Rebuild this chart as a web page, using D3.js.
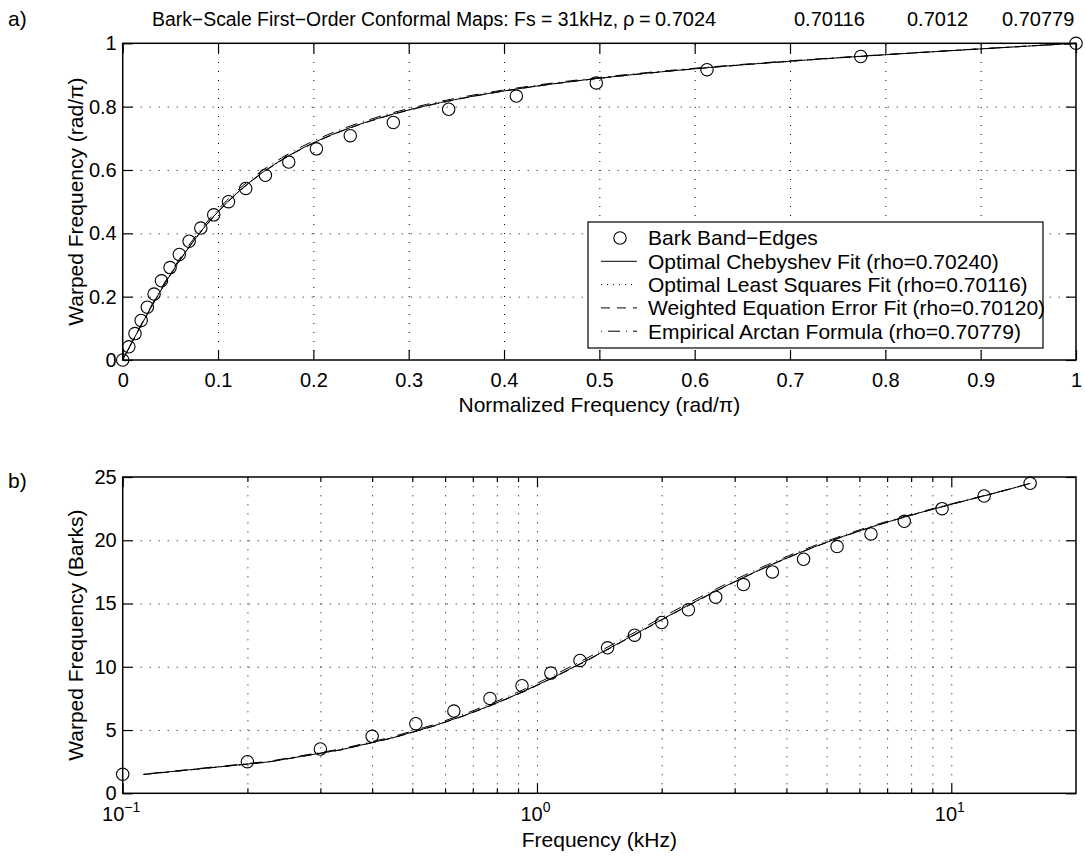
<!DOCTYPE html>
<html>
<head>
<meta charset="utf-8">
<script src="https://cdn.jsdelivr.net/npm/d3@7"></script>
<style>
  html, body { margin: 0; padding: 0; background: #fff; }
  svg { display: block; font-family: "Liberation Sans", Arial, Helvetica, sans-serif; }
</style>
</head>
<body>
<svg id="chart" width="1086" height="857"></svg>
<script>
// ---- data ---------------------------------------------------------------
// Bark critical-band edges (Hz)
const bandEdgesHz = [0, 100, 200, 300, 400, 510, 630, 770, 920, 1080, 1270, 1480,
  1720, 2000, 2320, 2700, 3150, 3700, 4400, 5300, 6400, 7700, 9500, 12000, 15500];
// Band edges on the normalized warped-frequency axis (panel a)
const edgeWarpNorm = [0, 0.0417, 0.0833, 0.125, 0.1667, 0.2083, 0.25, 0.2917, 0.3333,
  0.375, 0.4167, 0.4583, 0.5, 0.5417, 0.5833, 0.625, 0.6667, 0.7083, 0.75, 0.7917,
  0.8333, 0.875, 0.9167, 0.9583, 1];
// Band edges in Barks for the nonzero edges (panel b)
const edgeBarks = [1.5, 2.5, 3.5, 4.5, 5.5, 6.5, 7.5, 8.5, 9.5, 10.5, 11.5, 12.5,
  13.5, 14.5, 15.5, 16.5, 17.5, 18.5, 19.5, 20.5, 21.5, 22.5, 23.5, 24.5];

// Allpass coefficients of the four fits
const rhoValues = [0.70240, 0.70116, 0.70120, 0.70779];
const fitNames = ["Optimal Chebyshev Fit", "Optimal Least Squares Fit",
  "Weighted Equation Error Fit", "Empirical Arctan Formula"];

const sampleRateKHz = 31;
const gridPoints = 139;           // frequency samples from DC to Nyquist
const barkSpan = 24;              // warped [0,1] -> Barks
const barkOffset = 0.5;

// tick values
const normTicks = [0, 0.1, 0.2, 0.3, 0.4, 0.5, 0.6, 0.7, 0.8, 0.9, 1];
const warpTicks = [0, 0.2, 0.4, 0.6, 0.8, 1];
const barkTicks = [0, 5, 10, 15, 20, 25];
const logMajor = [0.1, 1, 10];
const logMajorExp = ["−1", "0", "1"];
const logMinor = [0.2, 0.3, 0.4, 0.5, 0.6, 0.7, 0.8, 0.9, 2, 3, 4, 5, 6, 7, 8, 9];

// ---- styles ----------------------------------------------------------------
const dashStyles = [null, "1,5", "9,7", "1,6,12,6"];
const gridDash = "1,8";

// ---- helpers ---------------------------------------------------------------
const nyquistKHz = sampleRateKHz / 2;
const freqKHz = d3.range(gridPoints).map(i => i * nyquistKHz / (gridPoints - 1));

// first-order conformal (allpass) map of normalized frequency, result in [0,1]
function warp(fNorm, rho) {
  const w = Math.PI * fNorm;
  return (w + 2 * Math.atan2(rho * Math.sin(w), 1 - rho * Math.cos(w))) / Math.PI;
}

const svg = d3.select("#chart");
const X0 = 122.7, X1 = 1076;

function dotted(sel) {
  sel.select(".domain").remove();
  sel.selectAll(".tick line")
    .attr("stroke", "#000").attr("stroke-width", 1).attr("stroke-dasharray", gridDash);
}
function plain(sel) {
  sel.select(".domain").remove();
  sel.selectAll(".tick line").attr("stroke", "#000").attr("stroke-width", 1.2);
  sel.selectAll("text").attr("fill", "#000");
}

// ---- panel a -------------------------------------------------------------
const aTop = 43.3, aBot = 360;
const xA = d3.scaleLinear([0, 1], [X0, X1]);
const yA = d3.scaleLinear([0, 1], [aBot, aTop]);
const gA = svg.append("g");

gA.append("g").attr("transform", `translate(0,${aBot})`)
  .call(d3.axisBottom(xA).tickValues(normTicks.slice(1, -1)).tickSize(-(aBot - aTop)).tickFormat(""))
  .call(dotted);
gA.append("g").attr("transform", `translate(${X0},0)`)
  .call(d3.axisLeft(yA).tickValues(warpTicks.slice(1, -1)).tickSize(-(X1 - X0)).tickFormat(""))
  .call(dotted);

gA.append("g").attr("transform", `translate(0,${aBot})`)
  .call(d3.axisBottom(xA).tickValues(normTicks).tickSize(-10).tickPadding(12.8)
    .tickFormat(d => d3.format("~g")(d)))
  .call(plain).attr("font-size", 20).attr("font-family", null);
gA.append("g").attr("transform", `translate(0,${aTop})`)
  .call(d3.axisTop(xA).tickValues(normTicks).tickSize(-10).tickFormat(""))
  .call(plain);
gA.append("g").attr("transform", `translate(${X0},0)`)
  .call(d3.axisLeft(yA).tickValues(warpTicks).tickSize(-10).tickPadding(6)
    .tickFormat(d => d3.format("~g")(d)))
  .call(plain).attr("font-size", 20).attr("font-family", null);
gA.append("g").attr("transform", `translate(${X1},0)`)
  .call(d3.axisRight(yA).tickValues(warpTicks).tickSize(-10).tickFormat(""))
  .call(plain);

gA.append("rect").attr("x", X0).attr("y", aTop).attr("width", X1 - X0).attr("height", aBot - aTop)
  .attr("fill", "none").attr("stroke", "#000").attr("stroke-width", 1.5);

// band-edge markers
gA.append("g").selectAll("circle")
  .data(bandEdgesHz.map((f, i) => [f / 1000 / nyquistKHz, edgeWarpNorm[i]]))
  .join("circle")
  .attr("cx", d => xA(d[0])).attr("cy", d => yA(d[1])).attr("r", 6.2)
  .attr("fill", "none").attr("stroke", "#000").attr("stroke-width", 1.1);

// warping curves
const lineA = d3.line().x(d => xA(d[0])).y(d => yA(d[1]));
rhoValues.forEach((rho, k) => {
  const pts = freqKHz.map(f => [f / nyquistKHz, warp(f / nyquistKHz, rho)]);
  gA.append("path").attr("d", lineA(pts)).attr("fill", "none")
    .attr("stroke", "#000").attr("stroke-width", 1)
    .attr("stroke-dasharray", dashStyles[k]);
});

// legend
const leg = gA.append("g");
leg.append("rect").attr("x", 588).attr("y", 222).attr("width", 455).attr("height", 126)
  .attr("fill", "#fff").attr("stroke", "#000").attr("stroke-width", 1.2);
const legRowY = i => 238 + i * 23.3;
leg.append("circle").attr("cx", 620).attr("cy", legRowY(0)).attr("r", 6.2)
  .attr("fill", "none").attr("stroke", "#000").attr("stroke-width", 1.1);
leg.append("text").attr("x", 648).attr("y", legRowY(0)).attr("dy", "0.35em")
  .attr("font-size", 21).text("Bark Band−Edges");
rhoValues.forEach((rho, k) => {
  const y = legRowY(k + 1);
  leg.append("line").attr("x1", 601).attr("x2", 637).attr("y1", y).attr("y2", y)
    .attr("stroke", "#000").attr("stroke-width", 1).attr("stroke-dasharray", dashStyles[k]);
  leg.append("text").attr("x", 648).attr("y", y).attr("dy", "0.35em")
    .attr("font-size", 21).text(`${fitNames[k]} (rho=${rho.toFixed(5)})`);
});

// labels
gA.append("text").attr("x", (X0 + X1) / 2).attr("y", 412).attr("text-anchor", "middle")
  .attr("font-size", 21).text("Normalized Frequency (rad/π)");
gA.append("text").attr("transform", `translate(82.5,${(aTop + aBot) / 2}) rotate(-90)`)
  .attr("text-anchor", "middle").attr("font-size", 21).text("Warped Frequency (rad/π)");
svg.append("text").attr("x", 8).attr("y", 26).attr("font-size", 21).text("a)");

// title: caption, rho symbol, then the four coefficients spread to the right
const title = svg.append("text").attr("y", 26).attr("font-size", 20);
title.append("tspan").attr("x", 152).attr("font-size", 19.4)
  .text(`Bark−Scale First−Order Conformal Maps: Fs = ${sampleRateKHz}kHz,`);
title.append("tspan").attr("x", 623).text("ρ");
title.append("tspan").attr("x", 639).text("=");
const titleX = [655, 794, 907, 1002];
rhoValues.forEach((rho, k) => title.append("tspan").attr("x", titleX[k]).text(String(rho)));

// ---- panel b -------------------------------------------------------------
const bTop = 477, bBot = 793.3;
const xB = d3.scaleLog([0.1, 20], [X0, X1]);
const yB = d3.scaleLinear([0, 25], [bBot, bTop]);
const gB = svg.append("g");

gB.append("g").attr("transform", `translate(0,${bBot})`)
  .call(d3.axisBottom(xB).tickValues(logMinor.concat([1, 10])).tickSize(-(bBot - bTop)).tickFormat(""))
  .call(dotted);
gB.append("g").attr("transform", `translate(${X0},0)`)
  .call(d3.axisLeft(yB).tickValues(barkTicks.slice(1, -1)).tickSize(-(X1 - X0)).tickFormat(""))
  .call(dotted);

// major ticks with power-of-ten labels
const majB = gB.append("g").attr("transform", `translate(0,${bBot})`)
  .call(d3.axisBottom(xB).tickValues(logMajor).tickSize(-10).tickPadding(10.8).tickFormat(""))
  .call(plain);
majB.selectAll(".tick").each(function (d, i) {
  const t = d3.select(this).append("text").attr("fill", "#000").attr("y", 28)
    .attr("text-anchor", "middle").attr("font-size", 20).attr("dx", "-0.1em");
  t.append("tspan").text("10");
  t.append("tspan").attr("dy", -9).attr("font-size", 14).text(logMajorExp[i]);
});
gB.append("g").attr("transform", `translate(0,${bBot})`)
  .call(d3.axisBottom(xB).tickValues(logMinor).tickSize(-5).tickFormat(""))
  .call(plain);
gB.append("g").attr("transform", `translate(0,${bTop})`)
  .call(d3.axisTop(xB).tickValues(logMajor).tickSize(-10).tickFormat(""))
  .call(plain);
gB.append("g").attr("transform", `translate(0,${bTop})`)
  .call(d3.axisTop(xB).tickValues(logMinor).tickSize(-5).tickFormat(""))
  .call(plain);
gB.append("g").attr("transform", `translate(${X0},0)`)
  .call(d3.axisLeft(yB).tickValues(barkTicks).tickSize(-10).tickPadding(6)
    .tickFormat(d => String(d)))
  .call(plain).attr("font-size", 20).attr("font-family", null);
gB.append("g").attr("transform", `translate(${X1},0)`)
  .call(d3.axisRight(yB).tickValues(barkTicks).tickSize(-10).tickFormat(""))
  .call(plain);

gB.append("rect").attr("x", X0).attr("y", bTop).attr("width", X1 - X0).attr("height", bBot - bTop)
  .attr("fill", "none").attr("stroke", "#000").attr("stroke-width", 1.5);

gB.append("g").selectAll("circle")
  .data(bandEdgesHz.slice(1).map((f, i) => [f / 1000, edgeBarks[i]]))
  .join("circle")
  .attr("cx", d => xB(d[0])).attr("cy", d => yB(d[1])).attr("r", 6.2)
  .attr("fill", "none").attr("stroke", "#000").attr("stroke-width", 1.1);

const lineB = d3.line().x(d => xB(d[0])).y(d => yB(d[1]));
rhoValues.forEach((rho, k) => {
  const pts = freqKHz.filter(f => f > 0)
    .map(f => [f, barkSpan * warp(f / nyquistKHz, rho) + barkOffset]);
  gB.append("path").attr("d", lineB(pts)).attr("fill", "none")
    .attr("stroke", "#000").attr("stroke-width", 1)
    .attr("stroke-dasharray", dashStyles[k]);
});

gB.append("text").attr("x", (X0 + X1) / 2).attr("y", 847).attr("text-anchor", "middle")
  .attr("font-size", 21).text("Frequency (kHz)");
gB.append("text").attr("transform", `translate(82.5,${(bTop + bBot) / 2}) rotate(-90)`)
  .attr("text-anchor", "middle").attr("font-size", 21).text("Warped Frequency (Barks)");
svg.append("text").attr("x", 8).attr("y", 488).attr("font-size", 21).text("b)");
</script>
</body>
</html>
